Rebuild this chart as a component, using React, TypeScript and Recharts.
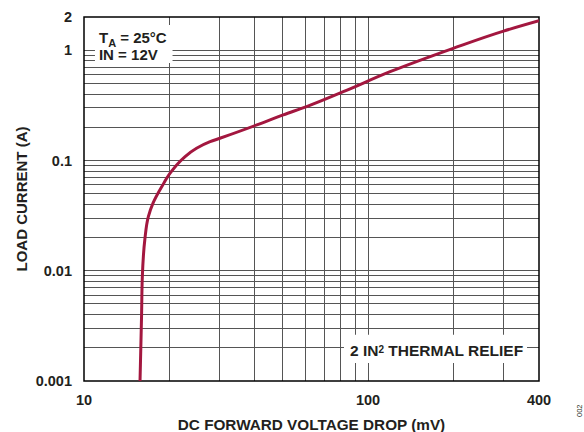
import { CartesianGrid, Label, Line, LineChart, ReferenceArea, XAxis, YAxis } from 'recharts';

// curve (mV, A)
const voltageMv = [15.75, 15.85, 15.95, 16.04, 16.37, 16.85, 17.5, 18.8, 20.1, 22.4, 24.9, 27.8, 30.1, 40.6, 50.3, 60.8, 81.8, 119.6, 199.5, 300, 400];
const loadCurrentA = [0.001, 0.002, 0.004, 0.0086, 0.019, 0.031, 0.041, 0.058, 0.0766, 0.105, 0.129, 0.148, 0.159, 0.21, 0.259, 0.308, 0.42, 0.638, 1.04, 1.49, 1.85];

const xTicks = [10, 100, 400];
const yTicks = [0.001, 0.01, 0.1, 1, 2];
const xGrid = [20, 30, 40, 50, 60, 70, 80, 90, 100, 200, 300];
const yGrid = [
  0.002, 0.003, 0.004, 0.005, 0.006, 0.007, 0.008, 0.009, 0.01,
  0.02, 0.03, 0.04, 0.05, 0.06, 0.07, 0.08, 0.09, 0.1,
  0.2, 0.3, 0.4, 0.5, 0.6, 0.7, 0.8, 0.9, 1,
];

const data = voltageMv.map((v, i) => ({ v, a: loadCurrentA[i] }));

const font = '"Liberation Sans", Arial, Helvetica, sans-serif';
const ink = '#231f20';

function ConditionsNote({ viewBox }: any) {
  const { x, y } = viewBox;
  return (
    <text fontFamily={font} fontSize={15} fontWeight="bold" fill={ink}>
      <tspan x={x + 4} y={y + 17.5}>T</tspan>
      <tspan fontSize={11} dy={4}>A</tspan>
      <tspan dy={-4}>{' = 25°C'}</tspan>
      <tspan x={x + 4} y={y + 34.5}>IN = 12V</tspan>
    </text>
  );
}

function ReliefNote({ viewBox }: any) {
  const { x, y } = viewBox;
  return (
    <text fontFamily={font} fontSize={15.5} fontWeight="bold" fill={ink}>
      <tspan x={x + 6} y={y + 21.5}>2 IN</tspan>
      <tspan fontSize={10} dy={-3.5}>2</tspan>
      <tspan dy={3.5}>{' THERMAL RELIEF'}</tspan>
    </text>
  );
}

const tickStyle = { fontFamily: font, fontSize: 14.5, fontWeight: 'bold', fill: ink };

export default function App() {
  return (
    <div style={{ position: 'absolute', left: 0, top: 0, width: 584, height: 432, background: '#fff' }}>
      <LineChart width={584} height={432} data={data} margin={{ top: 17, right: 45, bottom: 0, left: 0 }}>
        <CartesianGrid
          stroke="#555"
          strokeWidth={1}
          shapeRendering="crispEdges"
          horizontalValues={yGrid}
          verticalValues={xGrid}
        />
        <XAxis
          dataKey="v"
          type="number"
          scale="log"
          domain={[10, 400]}
          ticks={xTicks}
          interval={0}
          allowDataOverflow
          height={51}
          axisLine={false}
          tickLine={false}
          tickSize={0}
          tickMargin={14}
          tick={tickStyle}
        >
          <Label
            value="DC FORWARD VOLTAGE DROP (mV)"
            position="insideBottom"
            offset={2}
            style={{ fontFamily: font, fontSize: 15.3, fontWeight: 'bold', fill: ink }}
          />
        </XAxis>
        <YAxis
          type="number"
          scale="log"
          domain={[0.001, 2]}
          ticks={yTicks}
          interval={0}
          allowDataOverflow
          width={84}
          axisLine={false}
          tickLine={false}
          tickSize={0}
          tickMargin={12}
          tick={tickStyle}
          tickFormatter={(t: number) => String(t)}
        >
          <Label
            value="LOAD CURRENT (A)"
            angle={-90}
            position="center"
            dx={-20}
            style={{ fontFamily: font, fontSize: 15, fontWeight: 'bold', fill: ink }}
          />
        </YAxis>
        <ReferenceArea x1={10.93} x2={20.5} y1={0.766} y2={1.69} fill="#fff" fillOpacity={1} stroke="none">
          <Label content={ConditionsNote} />
        </ReferenceArea>
        <ReferenceArea x1={82.3} x2={363} y1={0.00146} y2={0.00262} fill="#fff" fillOpacity={1} stroke="none">
          <Label content={ReliefNote} />
        </ReferenceArea>
        <ReferenceArea x1={10} x2={400} y1={0.001} y2={2} fill="none" stroke="#000" strokeWidth={1.5} />
        <Line
          dataKey="a"
          type="monotoneY"
          stroke="#a3173f"
          strokeWidth={3}
          dot={false}
          isAnimationActive={false}
        />
      </LineChart>
      <span
        style={{
          position: 'absolute',
          left: 576,
          top: 417,
          fontFamily: font,
          fontSize: 7.5,
          color: ink,
          transform: 'rotate(-90deg)',
          transformOrigin: 'left top',
          lineHeight: 1,
        }}
      >
        002
      </span>
    </div>
  );
}
